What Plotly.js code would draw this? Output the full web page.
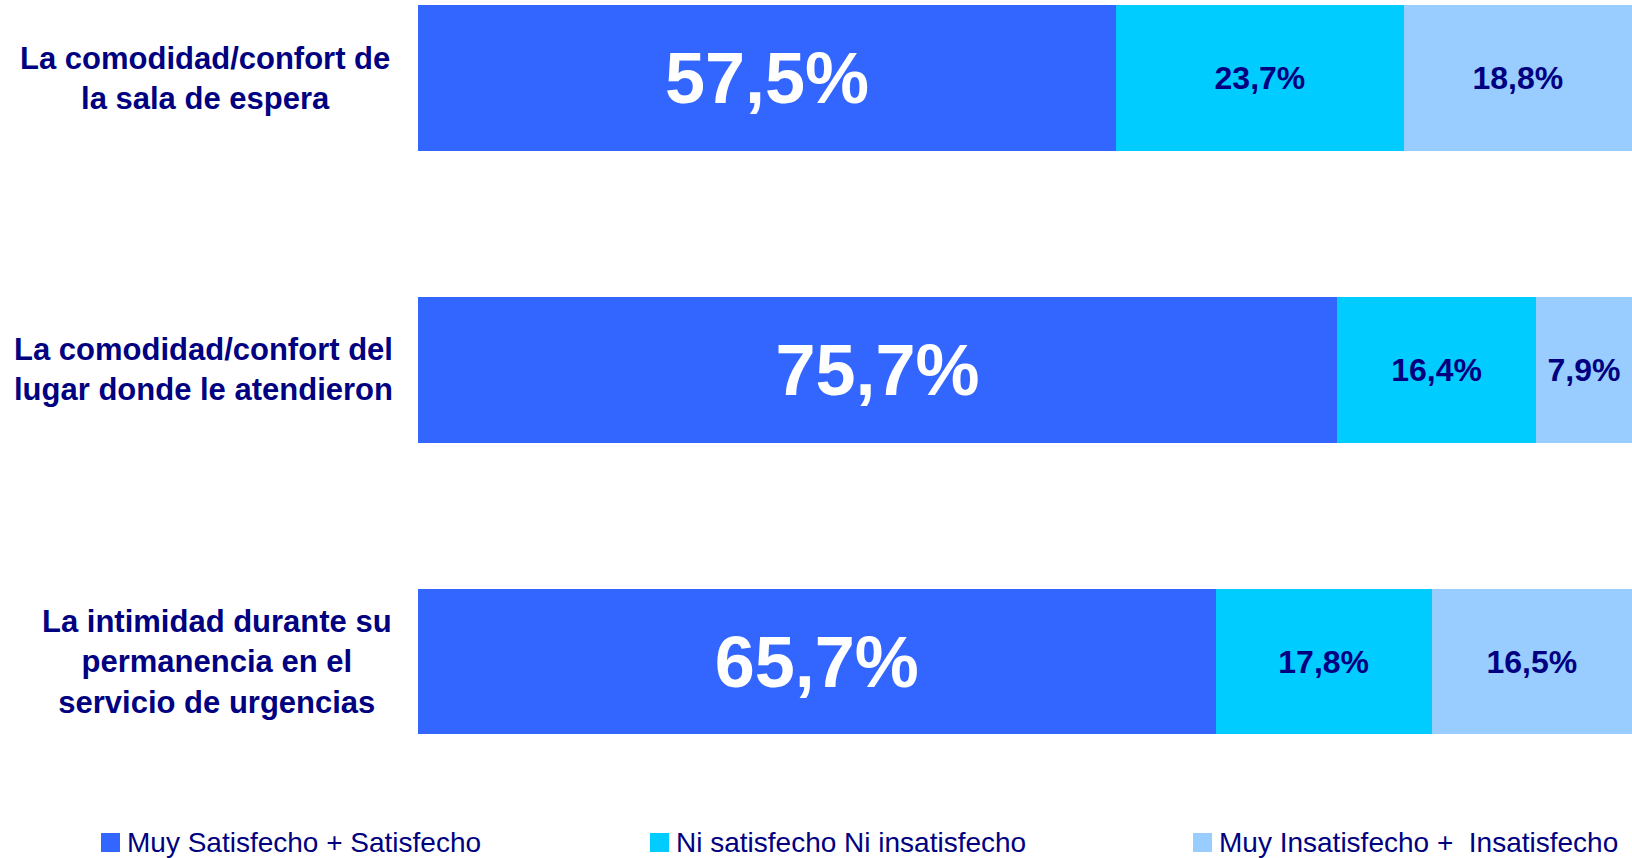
<!DOCTYPE html>
<html>
<head>
<meta charset="utf-8">
<script src="https://cdn.plot.ly/plotly-3.0.1.min.js"></script>
<style>html,body{margin:0;padding:0;background:#fff;}#chart{width:1632px;height:858px;}</style>
</head>
<body>
<div id="chart"></div>
<script>
// ---- data ----
var categories = [
  "La comodidad/confort de<br>la sala de espera",
  "La comodidad/confort del<br>lugar donde le atendieron",
  "La intimidad durante su<br>permanencia en el<br>servicio de urgencias"
];
var seriesNames = ["Muy Satisfecho + Satisfecho", "Ni satisfecho Ni insatisfecho", "Muy Insatisfecho +  Insatisfecho"];
var satisfechos = [57.5, 75.7, 65.7];
var neutros = [23.7, 16.4, 17.8];
var insatisfechos = [18.8, 7.9, 16.5];

// ---- styling / layout ----
var navy = "#000080";
var colors = ["#3366FF", "#00CCFF", "#99CCFF"];
var FONT = "Liberation Sans, Arial, sans-serif";
var labelCentersPx = [205, 203, 217];
var legendStartsPx = [101, 650, 1193];
var plotLeft = 418, plotW = 1632 - 418, plotH = 780;
function px2x(p){ return (p - plotLeft) / plotW; }
function py2y(p){ return 1 - p / plotH; }

var idx = categories.map(function(_, i){ return i; });

function mkTrace(vals, name, color, font) {
  return {
    type: "bar", orientation: "h",
    x: vals, y: idx, name: name,
    marker: {color: color, line: {width: 0}},
    texttemplate: "%{x:.1f}%",
    textposition: "inside",
    insidetextanchor: "middle",
    constraintext: "none",
    textfont: font,
    hoverinfo: "skip",
    showlegend: false
  };
}

var data = [
  mkTrace(satisfechos, seriesNames[0], colors[0], {family: FONT, size: 72, color: "#FFFFFF", weight: "bold"}),
  mkTrace(neutros, seriesNames[1], colors[1], {family: FONT, size: 32, color: navy, weight: "bold"}),
  mkTrace(insatisfechos, seriesNames[2], colors[2], {family: FONT, size: 32, color: navy, weight: "bold"})
];

var annotations = categories.map(function(c, i){
  return {
    xref: "paper", yref: "y",
    x: px2x(labelCentersPx[i]), y: i,
    xanchor: "center", yanchor: "middle",
    text: c, align: "center", showarrow: false,
    font: {family: FONT, size: 31, color: navy, weight: "bold"}
  };
});

var shapes = [];
seriesNames.forEach(function(n, i){
  var s = legendStartsPx[i];
  shapes.push({
    type: "rect", xref: "paper", yref: "paper",
    x0: px2x(s), x1: px2x(s + 19), y0: py2y(852), y1: py2y(833),
    fillcolor: colors[i], line: {width: 0}
  });
  annotations.push({
    xref: "paper", yref: "paper",
    x: px2x(s + 24), y: py2y(842),
    xanchor: "left", yanchor: "middle",
    text: n, showarrow: false, align: "left",
    font: {family: FONT, size: 28, color: navy}
  });
});

var layout = {
  width: 1632, height: 858,
  margin: {l: plotLeft, r: 0, t: 0, b: 858 - plotH, pad: 0},
  paper_bgcolor: "#FFFFFF", plot_bgcolor: "#FFFFFF",
  barmode: "stack", bargap: 0.5,
  separators: ",.",
  hovermode: false,
  showlegend: false,
  xaxis: {range: [0, 100], visible: false, fixedrange: true},
  yaxis: {range: [2.406, -0.2674], showticklabels: false, showgrid: false, zeroline: false, showline: false, ticks: "", fixedrange: true},
  annotations: annotations,
  shapes: shapes
};

Plotly.newPlot("chart", data, layout, {displayModeBar: false, staticPlot: true});
</script>
</body>
</html>
